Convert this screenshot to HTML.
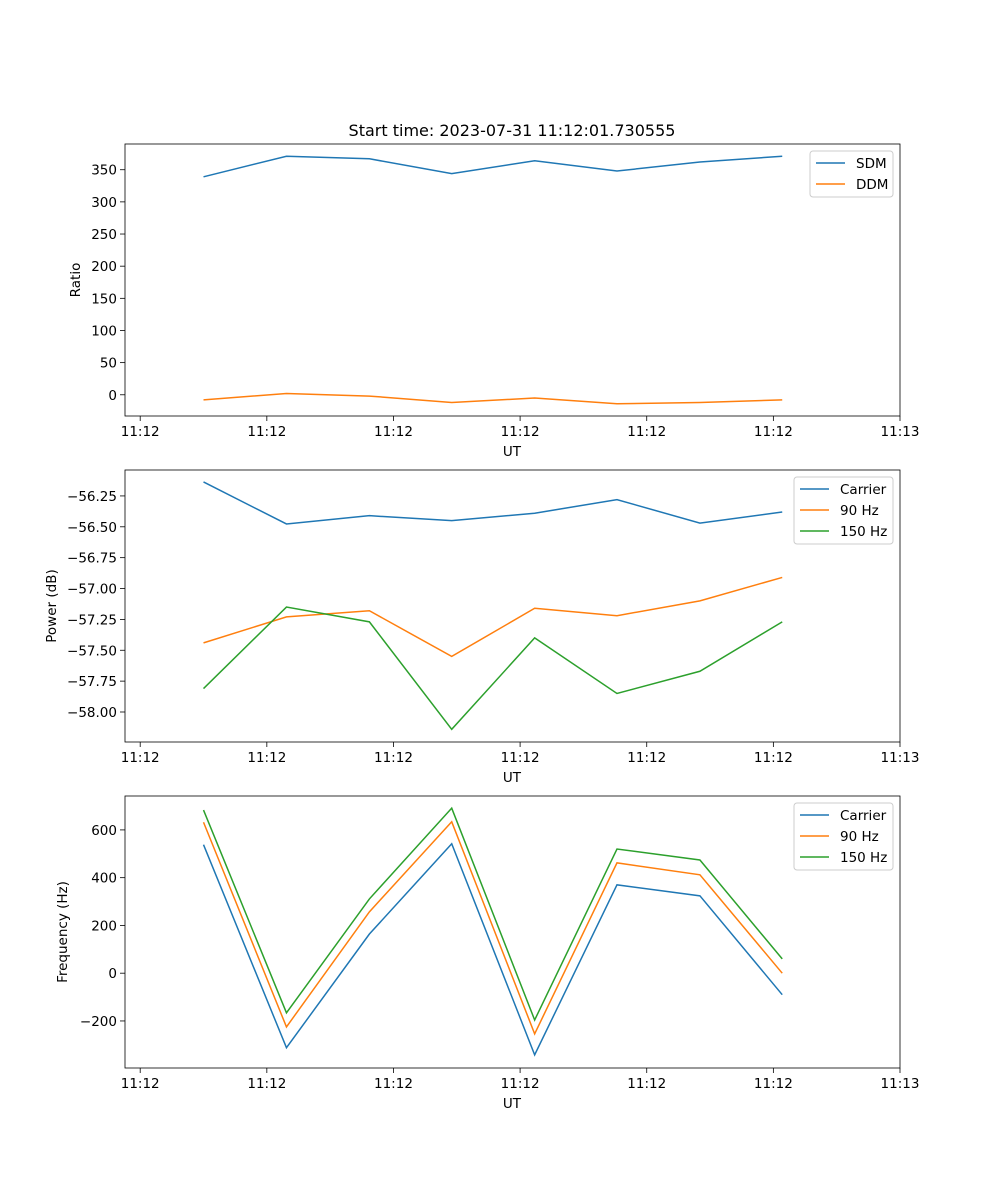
<!DOCTYPE html>
<html><head><meta charset="utf-8"><style>
body{margin:0;background:#fff}
svg{display:block;font-family:"DejaVu Sans","Liberation Sans",sans-serif}
</style></head><body>
<svg id="fig" width="1000" height="1200">
<text x="512" y="136" font-size="16" text-anchor="middle">Start time: 2023-07-31 11:12:01.730555</text>
</svg>
<script>
const xPositions = [0.5, 1.155, 1.81, 2.46, 3.115, 3.765, 4.42, 5.07];
const xTickLabels = ["11:12","11:12","11:12","11:12","11:12","11:12","11:13"];
const sdm = [339, 371, 367, 344, 364, 348, 362, 371];
const ddm = [-8, 2, -2, -12, -5, -14, -12, -8];
const pwrCarrier = [-56.137, -56.477, -56.41, -56.45, -56.39, -56.28, -56.47, -56.38];
const pwr90 = [-57.44, -57.23, -57.18, -57.55, -57.16, -57.22, -57.10, -56.91];
const pwr150 = [-57.81, -57.15, -57.27, -58.14, -57.40, -57.85, -57.67, -57.27];
const frqCarrier = [538, -312, 164, 542, -342, 370, 324, -90];
const frq90 = [632, -225, 257, 634, -254, 462, 412, 0];
const frq150 = [683, -166, 311, 691, -196, 520, 474, 60];
const ratioTicks = [0,50,100,150,200,250,300,350];
const powerTicks = [-58.00,-57.75,-57.50,-57.25,-57.00,-56.75,-56.50,-56.25];
const freqTicks = [-200,0,200,400,600];

const NS="http://www.w3.org/2000/svg";
const svg=document.getElementById('fig');
function mk(tag,attrs,parent){const e=document.createElementNS(NS,tag);for(const k in attrs)e.setAttribute(k,attrs[k]);(parent||svg).appendChild(e);return e;}
const L=125,R=900,xmin=-0.12,xmax=6;
function xs(v){return L+(v-xmin)/(xmax-xmin)*(R-L);}
const colors=["#1f77b4","#ff7f0e","#2ca02c"];

function panel(name,top,bottom,ymin,ymax,yticks,fmt,ylabel,series,names,legendX,legendW){
  const g=mk('g',{});
  
  
  const ys=v=>bottom-(v-ymin)/(ymax-ymin)*(bottom-top);
  series.forEach((s,i)=>{
    const p=mk('polyline',{points:s.map((v,j)=>xs(xPositions[j])+','+ys(v)).join(' '),fill:'none',stroke:colors[i],'stroke-width':1.5},g);
    
    
  });
  const fr=mk('rect',{x:L,y:top,width:R-L,height:bottom-top,fill:'none',stroke:'#000','stroke-width':0.8},g);
  
  
  xTickLabels.forEach((t,i)=>{
    const x=xs(i);
    mk('line',{x1:x,x2:x,y1:bottom,y2:bottom+5,stroke:'#000','stroke-width':0.8},g);
    const tx=mk('text',{x:x,y:bottom+20,'font-size':13.5,'text-anchor':'middle'},g);
    tx.textContent=t;
    
    
  });
  const xl=mk('text',{x:512,y:bottom+40,'font-size':13.5,'text-anchor':'middle'},g);
  xl.textContent='UT';
  
  
  yticks.forEach(t=>{
    const y=ys(t);
    mk('line',{x1:L-5,x2:L,y1:y,y2:y,stroke:'#000','stroke-width':0.8},g);
    const tx=mk('text',{x:L-8,y:y+5,'font-size':13.5,'text-anchor':'end'},g);
    tx.textContent=fmt(t);
    
    
  });
  const yl=mk('text',{x:0,y:0,'font-size':13.5,'text-anchor':'middle',transform:`translate(${ylabel[1]},${(top+bottom)/2}) rotate(-90)`},g);
  yl.textContent=ylabel[0];
  
  
  const lg=mk('g',{},g);
  
  
  const h=names.length*21+4;
  mk('rect',{x:legendX,y:top+7,width:legendW,height:h,rx:3,fill:'#fff',stroke:'#ccc','stroke-width':1},lg);
  names.forEach((n,i)=>{
    const y=top+19+i*21;
    mk('line',{x1:legendX+6,x2:legendX+35,y1:y,y2:y,stroke:colors[i],'stroke-width':1.5},lg);
    const tx=mk('text',{x:legendX+46,y:y+5,'font-size':13.5},lg);
    tx.textContent=n;
    
    
  });
}
panel('ratio-panel',144,416,-33,390,ratioTicks,v=>String(v),['Ratio',80],[sdm,ddm],['SDM','DDM'],810,83);
panel('power-panel',470,742,-58.243,-56.04,powerTicks,v=>v.toFixed(2).replace('-','\u2212'),['Power (dB)',56],[pwrCarrier,pwr90,pwr150],['Carrier','90 Hz','150 Hz'],794,99);
panel('frequency-panel',796,1068,-397,742,freqTicks,v=>String(v).replace('-','\u2212'),['Frequency (Hz)',67],[frqCarrier,frq90,frq150],['Carrier','90 Hz','150 Hz'],794,99);
</script>
</body></html>
